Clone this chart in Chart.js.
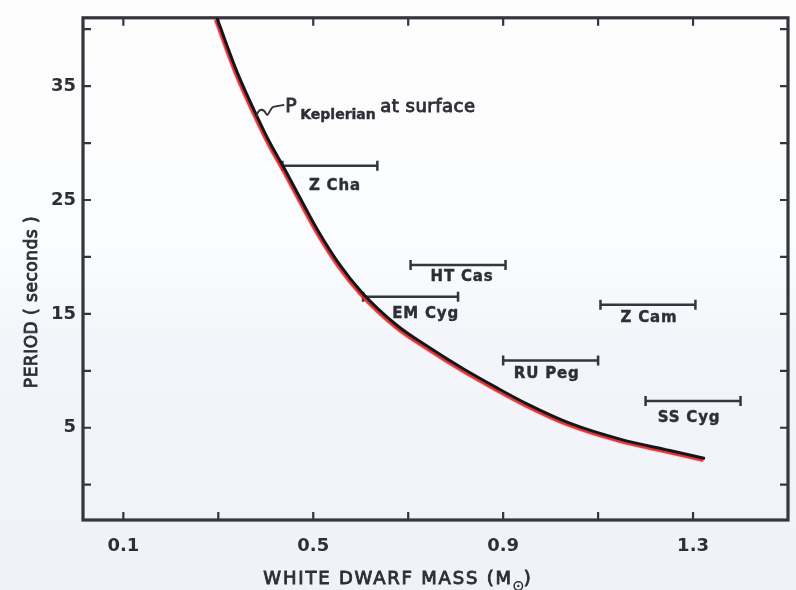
<!DOCTYPE html>
<html>
<head>
<meta charset="utf-8">
<script src="https://cdn.jsdelivr.net/npm/chart.js@4/dist/chart.umd.min.js"></script>
<style>
  html, body { margin: 0; padding: 0; }
  body {
    width: 796px; height: 590px; overflow: hidden;
    background: linear-gradient(to bottom, #fdfdfe 0%, #fbfcfd 42%, #f3f5fa 58%, #eff2f8 100%);
  }
  canvas { display: block; }
</style>
</head>
<body>
<canvas id="c" width="796" height="590"></canvas>
<script>
// Axis ticks (labels only on alternate ticks)
const massTicks = [0.1, 0.3, 0.5, 0.7, 0.9, 1.1, 1.3];
const massTickLabels = ['0.1', '', '0.5', '', '0.9', '', '1.3'];
const periodTicks = [0, 5, 10, 15, 20, 25, 30, 35, 40];
const periodTickLabels = ['', '5', '', '15', '', '25', '', '35', ''];

// Keplerian period at the white dwarf surface
const keplerMass   = [0.297, 0.339, 0.382, 0.409, 0.436, 0.472, 0.510, 0.556, 0.602, 0.676, 0.746, 0.815, 0.887, 0.950, 1.040, 1.146, 1.251, 1.325];
const keplerPeriod = [41.0, 36.3, 32.3, 30.0, 28.0, 25.2, 22.3, 19.3, 16.9, 14.0, 12.0, 10.2, 8.5, 7.1, 5.4, 4.0, 3.0, 2.3];

// Dwarf nova oscillation periods with mass ranges
const starNames      = ['Z Cha', 'HT Cas', 'EM Cyg', 'Z Cam', 'RU Peg', 'SS Cyg'];
const starMassLow    = [0.435, 0.705, 0.605, 1.105, 0.900, 1.200];
const starMassHigh   = [0.635, 0.905, 0.805, 1.305, 1.100, 1.400];
const starPeriod     = [28.0, 19.3, 16.5, 15.8, 10.9, 7.35];

const ink = '#35353d';
const textInk = '#2e2e36';
const FONT = '"DejaVu Sans", "Liberation Sans", sans-serif';

// label placement below each range bar (pixels)
const labelNudge = {
  'Z Cha': [5, 20], 'HT Cas': [4, 12], 'EM Cyg': [15, 17],
  'Z Cam': [1, 13], 'RU Peg': [-4, 14], 'SS Cyg': [-4, 17]
};

const datasets = [{
  data: keplerMass.map((m, i) => ({ x: m, y: keplerPeriod[i] })),
  showLine: true,
  borderColor: '#15151a',
  borderWidth: 3,
  pointRadius: 0,
  cubicInterpolationMode: 'monotone'
}];
starNames.forEach((name, i) => {
  datasets.push({
    label: name,
    data: [{ x: starMassLow[i], y: starPeriod[i] }, { x: starMassHigh[i], y: starPeriod[i] }],
    showLine: true,
    borderColor: ink,
    borderWidth: 2.5,
    pointStyle: 'line',
    pointRotation: 90,
    pointRadius: 5,
    pointBorderWidth: 2.5,
    pointBorderColor: ink
  });
});

function strokeText(ctx, txt, x, y) {
  ctx.fillText(txt, x, y);
  ctx.strokeText(txt, x, y);
}

function spacing(ctx, v) {
  if ('letterSpacing' in ctx) ctx.letterSpacing = v;
}

const redShadow = {
  id: 'redShadow',
  beforeDatasetDraw(chart, args) {
    if (args.index !== 0) return;
    const c = chart.ctx;
    c.save();
    c.shadowColor = 'rgba(228, 36, 36, 0.95)';
    c.shadowOffsetX = -1.5;
    c.shadowOffsetY = 2;
    c.shadowBlur = 1;
  },
  afterDatasetDraw(chart, args) {
    if (args.index === 0) chart.ctx.restore();
  }
};

const frameAndText = {
  id: 'frameAndText',
  beforeDatasetsDraw(chart) {
    const { ctx, chartArea: a, scales: { x, y } } = chart;
    ctx.save();
    ctx.strokeStyle = ink;
    ctx.lineWidth = 2.2;
    ctx.lineCap = 'butt';
    const tl = 8;
    massTicks.forEach(v => {
      const px = x.getPixelForValue(v);
      ctx.beginPath();
      ctx.moveTo(px, a.bottom); ctx.lineTo(px, a.bottom - tl);
      ctx.moveTo(px, a.top); ctx.lineTo(px, a.top + tl);
      ctx.stroke();
    });
    periodTicks.forEach(v => {
      const py = y.getPixelForValue(v);
      ctx.beginPath();
      ctx.moveTo(a.left, py); ctx.lineTo(a.left + tl, py);
      ctx.moveTo(a.right, py); ctx.lineTo(a.right - tl, py);
      ctx.stroke();
    });
    ctx.lineWidth = 3.2;
    ctx.strokeRect(a.left, a.top, a.right - a.left, a.bottom - a.top);
    ctx.restore();
  },
  afterDraw(chart) {
    const { ctx, chartArea: a, scales: { x, y } } = chart;
    ctx.save();
    ctx.fillStyle = textInk;
    ctx.strokeStyle = textInk;

    // range labels
    ctx.lineWidth = 0.4;
    ctx.font = 'bold 15px ' + FONT;
    ctx.textAlign = 'center';
    ctx.textBaseline = 'middle';
    spacing(ctx, '0.8px');
    starNames.forEach((name, i) => {
      const n = labelNudge[name] || [0, 15];
      const cx = x.getPixelForValue((starMassLow[i] + starMassHigh[i]) / 2) + n[0];
      const cy = y.getPixelForValue(starPeriod[i]) + n[1];
      strokeText(ctx, name, cx, cy);
    });

    // curve annotation with squiggle leader
    const ax = x.getPixelForValue(keplerMass[2]);
    const ay = y.getPixelForValue(keplerPeriod[2]);
    ctx.lineWidth = 1.8;
    ctx.beginPath();
    ctx.moveTo(ax - 1, ay);
    ctx.bezierCurveTo(ax + 2, ay - 11, ax + 7, ay - 7, ax + 9, ay - 3);
    ctx.bezierCurveTo(ax + 11, ay + 1, ax + 13, ay - 9, ax + 16, ay - 10);
    ctx.lineTo(ax + 27, ay - 12);
    ctx.stroke();
    ctx.lineWidth = 0.9;
    ctx.textAlign = 'left';
    ctx.textBaseline = 'alphabetic';
    spacing(ctx, '0px');
    ctx.font = '19px ' + FONT;
    strokeText(ctx, 'P', ax + 28, ay - 5);
    ctx.font = 'bold 14px ' + FONT;
    ctx.lineWidth = 0.4;
    strokeText(ctx, 'Keplerian', ax + 43, ay + 2);
    ctx.lineWidth = 0.9;
    ctx.font = '18px ' + FONT;
    spacing(ctx, '0.5px');
    strokeText(ctx, 'at surface', ax + 123, ay - 5);

    // x axis title with solar-mass symbol
    ctx.font = '18px ' + FONT;
    spacing(ctx, '1.8px');
    const t1 = 'WHITE DWARF MASS (M';
    const w1 = ctx.measureText(t1).width;
    const wSun = 11;
    const w2 = ctx.measureText(')').width;
    const total = w1 + wSun + w2;
    const tx = 398 - total / 2;
    const tb = 584;
    strokeText(ctx, t1, tx, tb);
    ctx.lineWidth = 1.5;
    ctx.beginPath();
    ctx.arc(tx + w1 + wSun / 2, tb + 2, 4.2, 0, Math.PI * 2);
    ctx.stroke();
    ctx.beginPath();
    ctx.arc(tx + w1 + wSun / 2, tb + 2, 1.2, 0, Math.PI * 2);
    ctx.fill();
    ctx.lineWidth = 0.9;
    strokeText(ctx, ')', tx + w1 + wSun, tb);

    // y axis title
    ctx.save();
    ctx.translate(33, 302);
    ctx.rotate(-Math.PI / 2);
    ctx.textAlign = 'center';
    ctx.textBaseline = 'middle';
    ctx.font = '17px ' + FONT;
    spacing(ctx, '0.5px');
    strokeText(ctx, 'PERIOD ( seconds )', 0, 0);
    ctx.restore();

    ctx.restore();
  }
};

new Chart(document.getElementById('c'), {
  type: 'scatter',
  data: { datasets },
  plugins: [redShadow, frameAndText],
  options: {
    responsive: false,
    animation: false,
    layout: { padding: { top: 13, right: 8, left: 0, bottom: 0 } },
    plugins: { legend: { display: false }, tooltip: { enabled: false } },
    scales: {
      x: {
        type: 'linear', min: 0.015, max: 1.5,
        afterBuildTicks: s => { s.ticks = massTicks.map(v => ({ value: v })); },
        afterFit: s => { s.height = 70; },
        grid: { display: false, drawTicks: false },
        border: { display: false },
        ticks: {
          autoSkip: false, maxRotation: 0, padding: 16,
          color: textInk, font: { family: FONT, size: 18, weight: '600' },
          callback: (v, i) => massTickLabels[i]
        }
      },
      y: {
        type: 'linear', min: -3.1, max: 41,
        afterBuildTicks: s => { s.ticks = periodTicks.map(v => ({ value: v })); },
        afterFit: s => { s.width = 83; },
        grid: { display: false, drawTicks: false },
        border: { display: false },
        ticks: {
          autoSkip: false, padding: 7,
          color: textInk, font: { family: FONT, size: 18, weight: '600' },
          callback: (v, i) => periodTickLabels[i]
        }
      }
    }
  }
});
</script>
</body>
</html>
